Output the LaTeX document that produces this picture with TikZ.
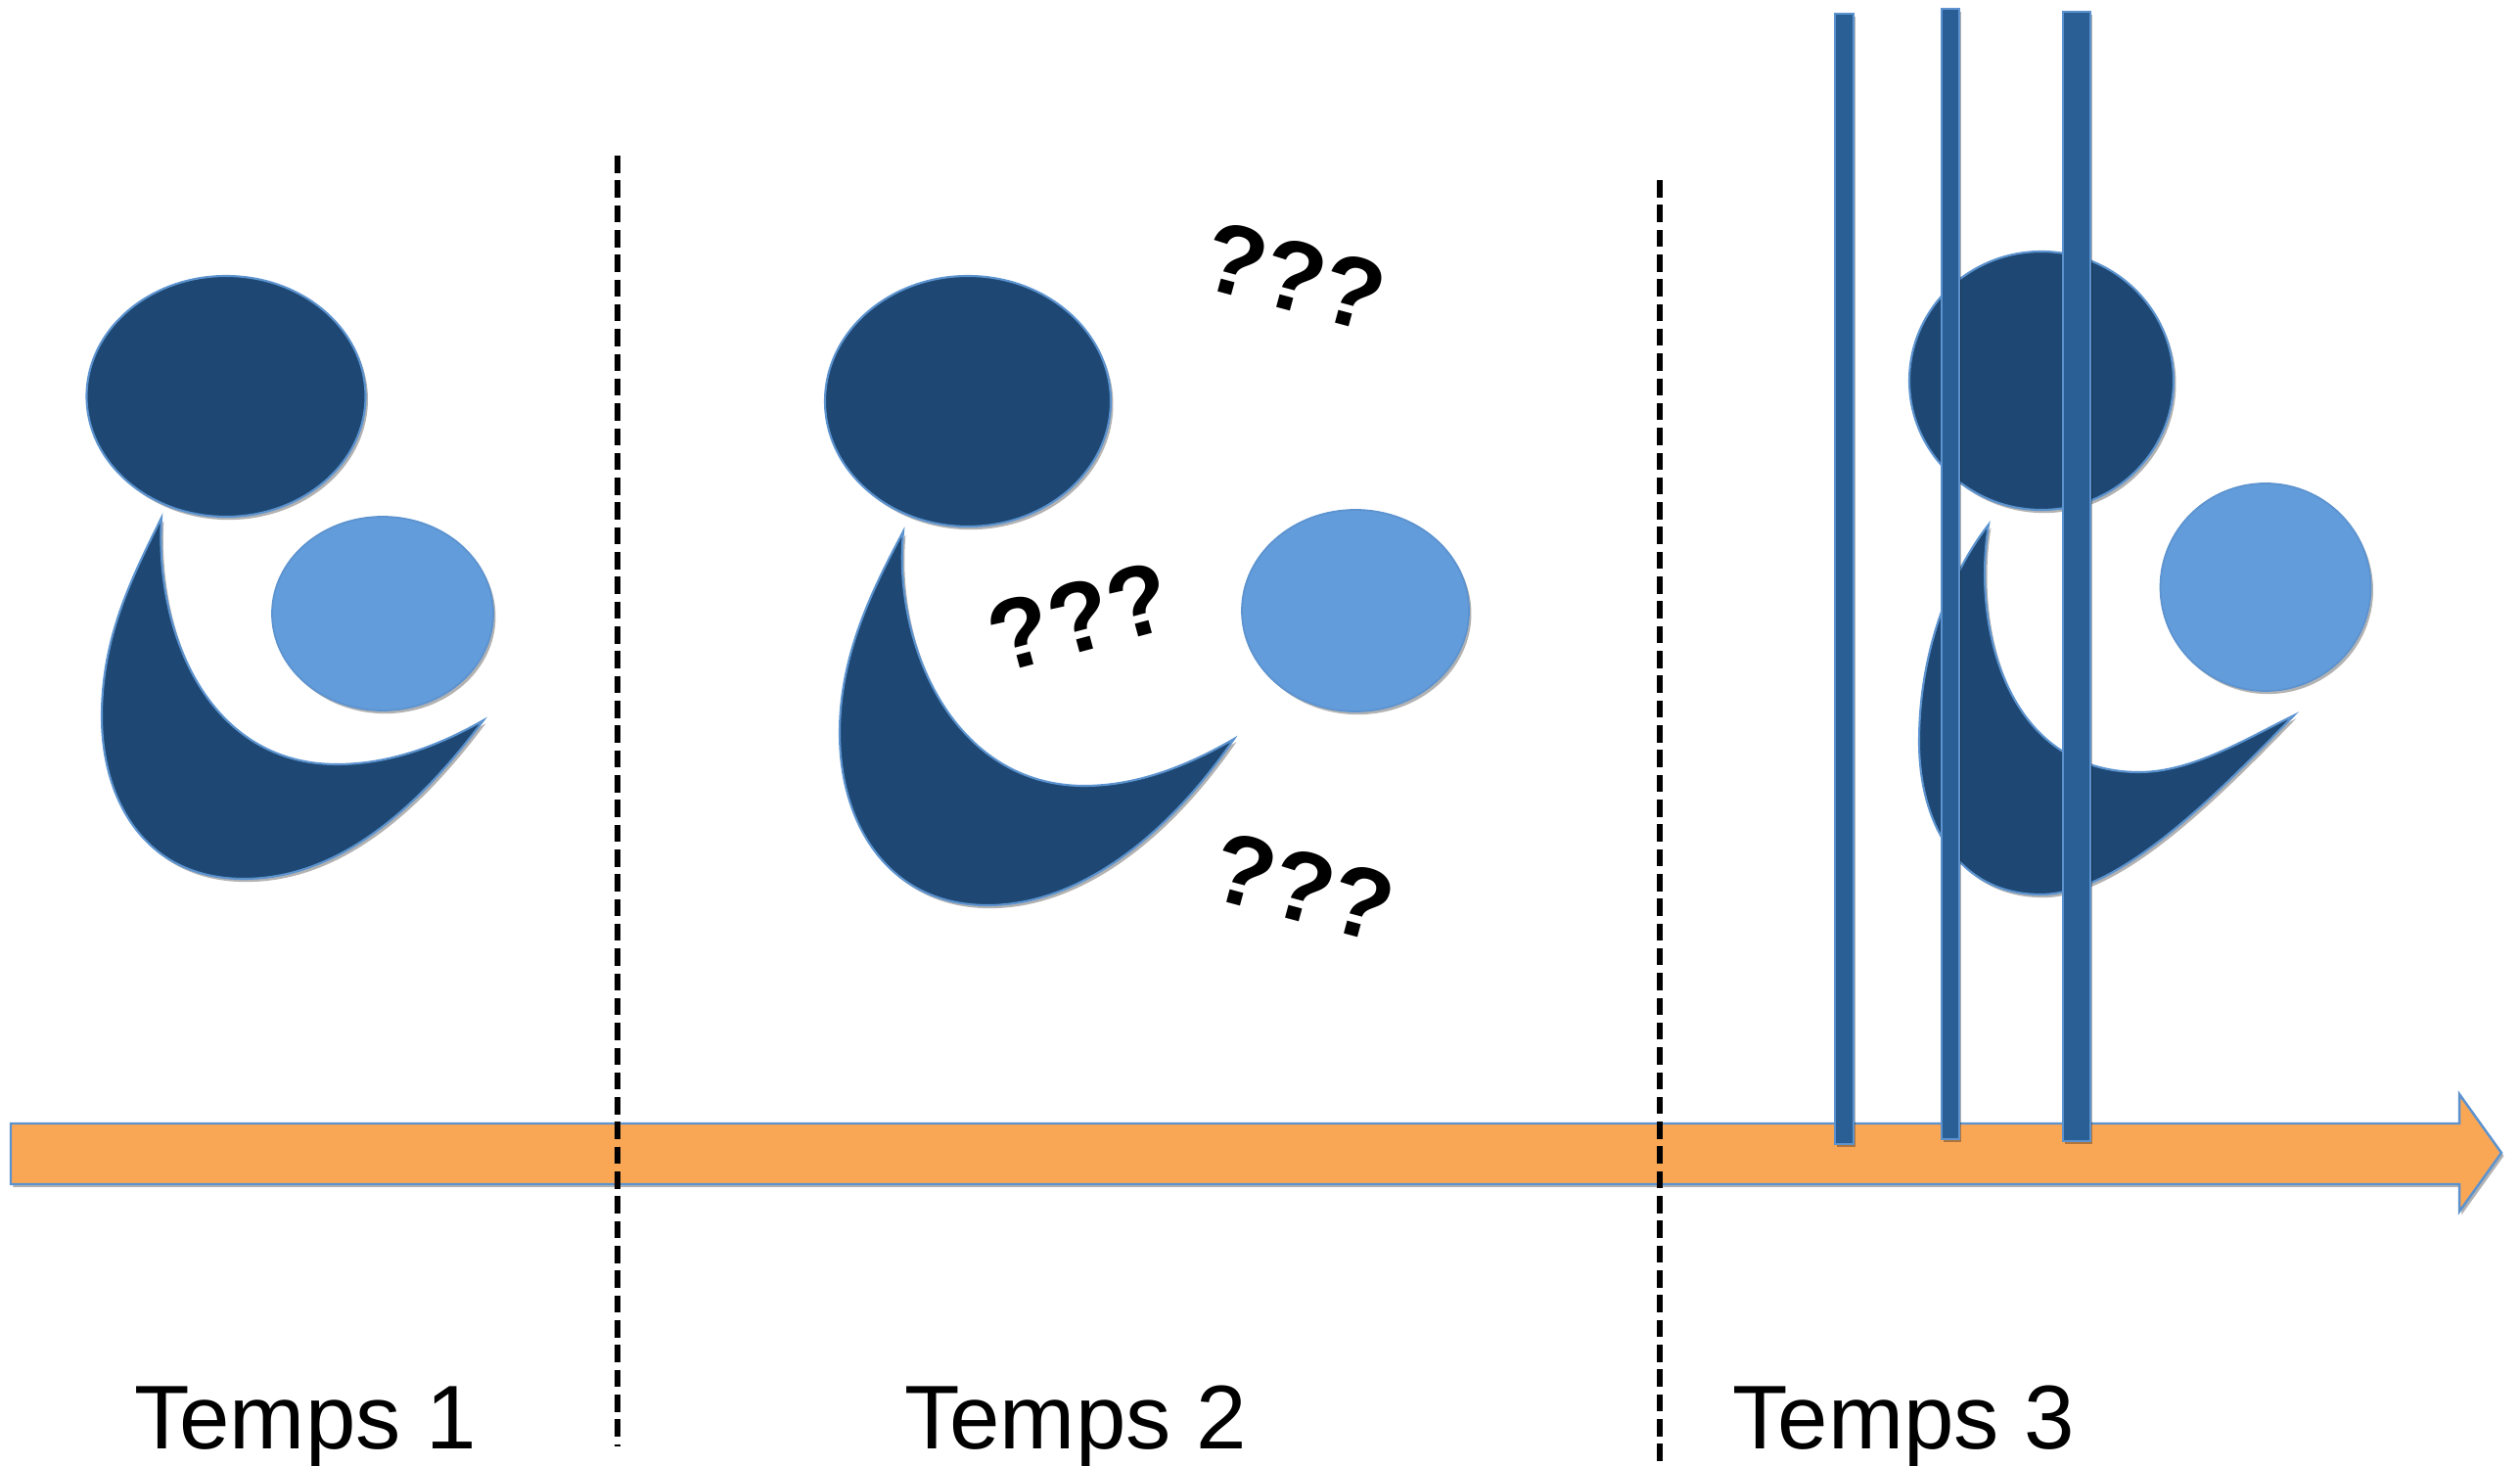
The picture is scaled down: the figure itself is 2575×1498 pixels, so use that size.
\documentclass[tikz,border=0pt]{standalone}
\usepackage{fontspec}
\setmainfont{Liberation Sans}
\usetikzlibrary{shadows}
\definecolor{darkblob}{HTML}{1E4873}
\definecolor{lightblob}{HTML}{639CDB}
\definecolor{edgeblue}{HTML}{5C93CF}
\definecolor{barblue}{HTML}{2A5F95}
\definecolor{timeorange}{HTML}{FAA755}
\tikzset{
  soft/.style={drop shadow={shadow xshift=.7pt,shadow yshift=-.9pt,opacity=.3,fill=black}},
  darkshape/.style={fill=darkblob,draw=edgeblue,line width=.6pt,soft},
  lightshape/.style={fill=lightblob,draw=edgeblue,line width=.5pt,soft},
  barshape/.style={fill=barblue,draw=edgeblue,line width=.5pt,soft},
  timearrow/.style={fill=timeorange,draw=edgeblue,line width=.7pt,soft},
  divider/.style={draw=black,line width=1.6pt,dash pattern=on 5pt off 2.2pt},
  timelabel/.style={font=\fontsize{26.3}{30}\selectfont,anchor=base,inner sep=0pt},
  marks/.style={font=\fontsize{29}{32}\selectfont\bfseries,inner sep=0pt}
}
\begin{document}
\begin{tikzpicture}[x=0.01cm,y=-0.01cm]
\useasboundingbox (0,0) rectangle (2575,1498);
% Temps 1
\draw[darkshape] (231,405) ellipse [x radius=142.5,y radius=123];
\draw[lightshape] (391,627) ellipse [x radius=113,y radius=99];
\draw[darkshape] (165,529) .. controls (158,650) and (215,781) .. (344,781)
  .. controls (395,781) and (445,764) .. (494,736)
  .. controls (420,835) and (340,898) .. (249,898)
  .. controls (150,898) and (104,820) .. (104,732)
  .. controls (104,650) and (135,590) .. (165,529) -- cycle;
% Temps 2
\draw[darkshape] (989,410) ellipse [x radius=146,y radius=128];
\draw[lightshape] (1385,624) ellipse [x radius=116,y radius=103];
\draw[darkshape] (923,543) .. controls (912,660) and (975,803) .. (1108,803)
  .. controls (1165,803) and (1218,780) .. (1261,755)
  .. controls (1190,858) and (1100,925) .. (1009,925)
  .. controls (910,925) and (858,845) .. (858,749)
  .. controls (858,670) and (890,605) .. (923,543) -- cycle;
% Temps 3
\draw[darkshape] (2086,389) ellipse [x radius=135,y radius=132];
\draw[lightshape] (2315,600) ellipse [x radius=107.5,y radius=106];
\draw[darkshape] (2032,536) .. controls (2015,640) and (2050,789) .. (2186,789)
  .. controls (2240,789) and (2295,755) .. (2344,731)
  .. controls (2265,812) and (2165,914) .. (2085,914)
  .. controls (2000,914) and (1961,840) .. (1961,758)
  .. controls (1961,670) and (1990,590) .. (2032,536) -- cycle;
% time arrow
\draw[timearrow] (11,1148) -- (2513,1148) -- (2513,1118) -- (2556,1178) -- (2513,1238) -- (2513,1210) -- (11,1210) -- cycle;
% bars
\draw[barshape] (1875,14) rectangle (1894,1169);
\draw[barshape] (1984,9) rectangle (2002,1164);
\draw[barshape] (2108,12) rectangle (2136,1166);
% dividers
\coordinate (d1a) at (631,159); \coordinate (d1b) at (631,1478);
\coordinate (d2a) at (1696,184); \coordinate (d2b) at (1696,1498);
\draw[divider] (d1a) -- (d1b);
\draw[divider] (d2a) -- (d2b);
% labels
\node[timelabel] (t1) at (312,1480) {Temps 1};
\node[timelabel] (t2) at (1099,1480) {Temps 2};
\node[timelabel] (t3) at (1945,1480) {Temps 3};
\node[marks,rotate=-15] (q1) at (1323,282) {???};
\node[marks,rotate=15] (q2) at (1103,630) {???};
\node[marks,rotate=-15] (q3) at (1332,906) {???};
\end{tikzpicture}
\end{document}
